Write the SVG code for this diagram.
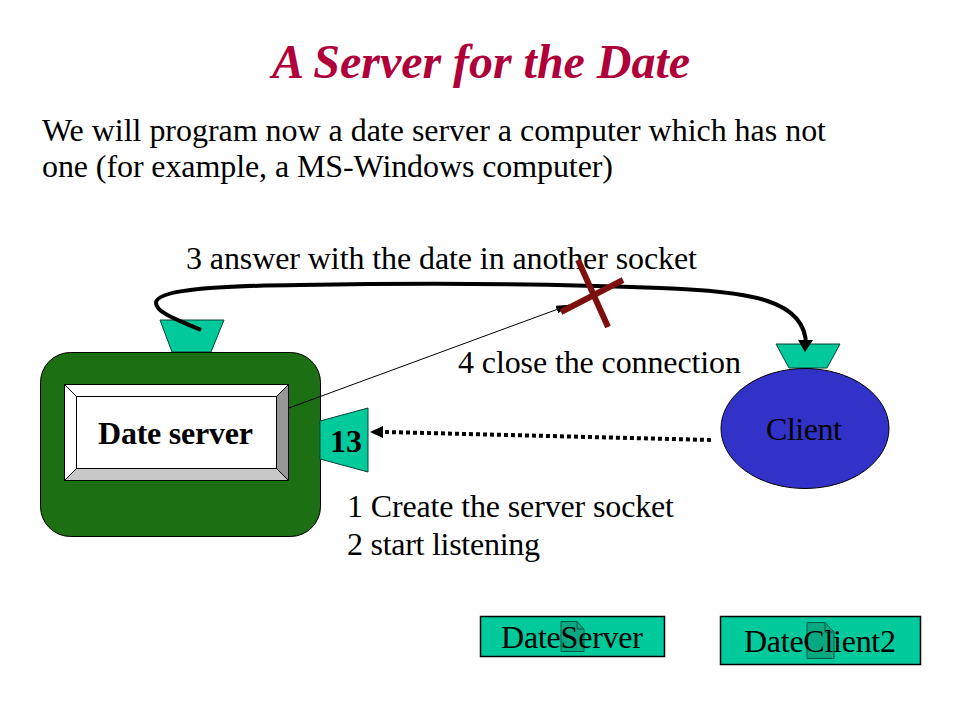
<svg xmlns="http://www.w3.org/2000/svg" width="960" height="720" viewBox="0 0 960 720">
<style>
text{font-family:"Liberation Serif","Times New Roman",serif;fill:#000}
.t{font-size:32px}
.sock{fill:#00c99c;stroke:#004433;stroke-width:1}
.file{fill:#08a982;stroke:#005a44;stroke-width:1}
.btn{fill:#00c99c;stroke:#000;stroke-width:1.5}
</style>
<defs>
<marker id="thin" markerWidth="14" markerHeight="8" refX="13" refY="4" orient="auto" markerUnits="userSpaceOnUse"><path d="M0 0L14 4L0 8z" fill="#000"/></marker>
</defs>
<rect width="960" height="720" fill="#fff"/>
<text id="title" x="272" y="78" font-size="48" font-weight="bold" font-style="italic" textLength="418" style="fill:#b0003a">A Server for the Date</text>
<text class="t" x="42" y="141" textLength="784">We will program now a date server a computer which has not</text>
<text class="t" x="42" y="177" textLength="571">one (for example, a MS-Windows computer)</text>
<text class="t" x="186" y="269" textLength="511">3 answer with the date in another socket</text>
<text class="t" x="458" y="373" textLength="283">4 close the connection</text>
<text class="t" x="347" y="517" textLength="327">1 Create the server socket</text>
<text class="t" x="347" y="555" textLength="193">2 start listening</text>
<g id="server">
<path class="sock" d="M160 320H224L211 352H172Z"/>
<rect x="40.500" y="352.500" width="280" height="184" rx="30" fill="#1d6f14" stroke="#000"/>
<rect x="64.500" y="384.500" width="224" height="96" fill="#fff" stroke="#000"/>
<path d="M276.500 396.500L288.500 384.500V480.500L276.500 468.500Z" fill="#969696" stroke="#000"/>
<path d="M64.500 480.500L76.500 468.500H276.500L288.500 480.500Z" fill="#c8c8c8" stroke="#000"/>
<path d="M64.500 384.500L76.500 396.500V468.500L64.500 480.500Z" fill="#fff" stroke="#000"/>
<rect x="76.500" y="396.500" width="200" height="72" fill="#fff" stroke="#000"/>
<text x="98" y="444" font-size="32" font-weight="bold" textLength="155">Date server</text>
</g>
<g id="port13">
<path class="sock" d="M320 421L368 408V472L320 459Z"/>
<text x="346" y="452" text-anchor="middle" font-size="32" font-weight="bold">13</text>
</g>
<g id="client">
<path class="sock" d="M776 344H840L827 368H789Z"/>
<ellipse cx="805" cy="428.500" rx="84" ry="60" fill="#3232c8" stroke="#000"/>
<text x="766" y="440" font-size="32" textLength="76">Client</text>
</g>
<g id="connectors" fill="none">
<line x1="289" y1="408" x2="569" y2="305" stroke="#000" stroke-width="1" marker-end="url(#thin)"/>
<path d="M201 330C175 319 156 312 156 303C156 291 200 286 300 285C420 283 560 284 660 288C750 291 806 300 806 345" stroke="#000" stroke-width="4"/>
<path d="M798 340L813 340L805 352Z" fill="#000"/>
<line x1="385" y1="432" x2="712" y2="440" stroke="#000" stroke-width="4" stroke-dasharray="4 3"/>
<path d="M370 432L383 426L383 438Z" fill="#000"/>
<g stroke="#7d0f0f" stroke-width="6">
<line x1="561" y1="312" x2="623" y2="280"/>
<line x1="578" y1="260" x2="608" y2="327"/>
</g>
</g>
<g id="dateserver">
<rect class="btn" x="480.500" y="616.500" width="184" height="40"/>
<path class="file" d="M561 621.500H577L584 629V651.500H561Z"/>
<path d="M577 621.500V629H584" fill="none" stroke="#005a44"/>
<text x="501" y="648" font-size="32" textLength="142">DateServer</text>
</g>
<g id="dateclient">
<rect class="btn" x="720.500" y="616.500" width="200" height="48"/>
<path class="file" d="M807 622.500H825L834 632V658.500H807Z"/>
<path d="M825 622.500V632H834" fill="none" stroke="#005a44"/>
<text x="744" y="652" font-size="32" textLength="152">DateClient2</text>
</g>
</svg>
